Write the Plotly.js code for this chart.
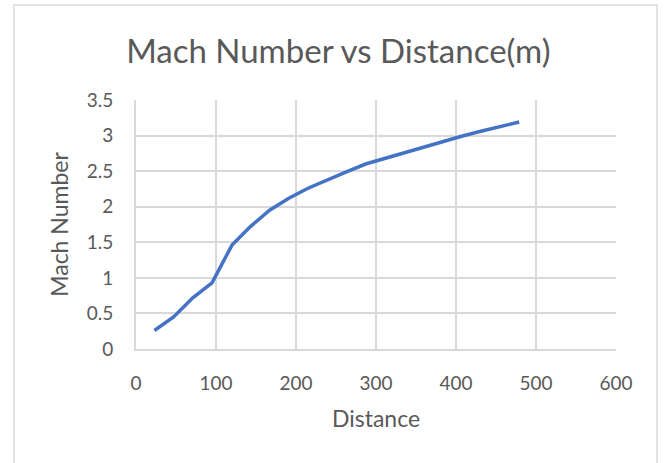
<!DOCTYPE html>
<html>
<head>
<meta charset="utf-8">
<script src="https://cdn.plot.ly/plotly-3.0.1.min.js"></script>
<style>
  html, body { margin: 0; padding: 0; background: #ffffff; }
  #chart { width: 666px; height: 463px; }
</style>
</head>
<body>
<div id="chart"></div>
<script>
// Distance travelled (m) and the Mach number reached at each station
const distance = [23, 47, 71, 95, 120, 143, 167, 191, 215, 239, 263, 287, 311, 335, 359, 383, 407, 431, 455, 479];
const machNumber = [0.26, 0.45, 0.72, 0.93, 1.46, 1.72, 1.95, 2.12, 2.26, 2.38, 2.49, 2.60, 2.68, 2.76, 2.84, 2.92, 2.99, 3.06, 3.12, 3.19];

const xTicks = [0, 100, 200, 300, 400, 500, 600];
const yTicks = [0, 0.5, 1, 1.5, 2, 2.5, 3, 3.5];

const textGray = '#595959';
const gridGray = '#d9d9d9';
const font = 'Lato, "Open Sans", sans-serif';

const trace = {
  x: distance,
  y: machNumber,
  type: 'scatter',
  mode: 'lines',
  line: { color: '#4472c4', width: 3.5 },
  hoverinfo: 'skip'
};

const layout = {
  width: 666,
  height: 463,
  margin: { l: 136, r: 50, t: 100, b: 114 },
  paper_bgcolor: '#ffffff',
  plot_bgcolor: '#ffffff',
  showlegend: false,
  font: { family: font, color: textGray },
  title: {
    text: 'Mach Number vs Distance(m)',
    font: { family: font, size: 33, color: textGray },
    x: 0.508,
    xanchor: 'center',
    y: 0.888,
    yanchor: 'middle'
  },
  xaxis: {
    range: [0, 600],
    tickvals: xTicks,
    ticktext: xTicks.map(String),
    showgrid: true,
    gridcolor: gridGray,
    gridwidth: 2,
    zeroline: false,
    showline: true,
    linecolor: gridGray,
    linewidth: 2,
    ticks: '',
    ticklabelstandoff: 16,
    tickfont: { family: font, size: 19, color: textGray },
    title: {
      text: 'Distance',
      font: { family: font, size: 23, color: textGray },
      standoff: 18
    }
  },
  yaxis: {
    range: [0, 3.5],
    tickvals: yTicks,
    ticktext: yTicks.map(String),
    showgrid: true,
    gridcolor: gridGray,
    gridwidth: 2,
    zeroline: false,
    showline: true,
    linecolor: gridGray,
    linewidth: 2,
    ticks: '',
    ticklabelstandoff: 17,
    tickfont: { family: font, size: 19, color: textGray },
    title: {
      text: 'Mach Number',
      font: { family: font, size: 23, color: textGray },
      standoff: 12
    }
  },
  shapes: [{
    type: 'rect',
    xref: 'paper',
    yref: 'paper',
    x0: (14 - 136) / 480,
    x1: (657 - 136) / 480,
    y0: (349 - 480) / 249,
    y1: (349 - 5) / 249,
    line: { color: gridGray, width: 1.5 },
    fillcolor: 'rgba(0,0,0,0)',
    layer: 'below'
  }]
};

Plotly.newPlot('chart', [trace], layout, { displayModeBar: false, staticPlot: true });
</script>
</body>
</html>
